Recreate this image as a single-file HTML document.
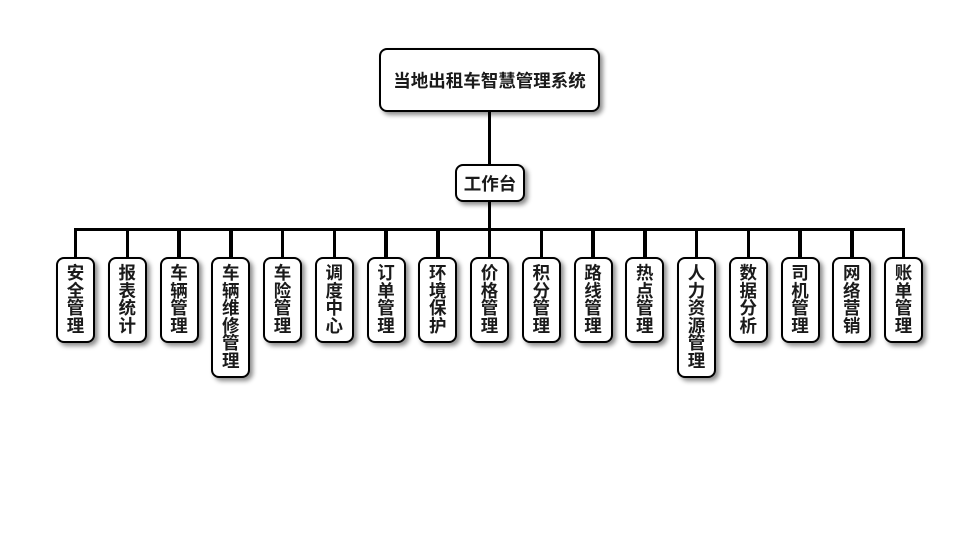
<!DOCTYPE html>
<html><head><meta charset="utf-8"><style>
html,body{margin:0;padding:0;background:#fff;}
body{width:980px;height:560px;position:relative;overflow:hidden;font-family:"Liberation Sans","Noto Sans CJK SC",sans-serif;}
.box{position:absolute;box-sizing:border-box;border:2px solid #000;border-radius:8px;background:#fff;box-shadow:3px 3px 5px rgba(0,0,0,0.45);display:flex;align-items:center;justify-content:center;font-weight:bold;color:#1a1a1a;font-size:17.5px;}
.leaf{width:39px;top:257px;line-height:17.5px;text-align:center;}
.ln{position:absolute;background:#000;}
</style></head><body>
<div class="ln" style="left:487.8px;top:110px;width:3.5px;height:56px"></div>
<div class="ln" style="left:487.8px;top:200px;width:3.5px;height:30px"></div>
<div class="ln" style="left:74px;top:227.5px;width:831px;height:3.5px"></div>
<div id="ticks"></div>
<div class="box" style="left:379px;top:48px;width:221px;height:64px;">当地出租车智慧管理系统</div>
<div class="box" style="left:455px;top:164px;width:70px;height:38px;">工作台</div>
<script>
var items=["安全管理","报表统计","车辆管理","车辆维修管理","车险管理","调度中心","订单管理","环境保护","价格管理","积分管理","路线管理","热点管理","人力资源管理","数据分析","司机管理","网络营销","账单管理"];
var h="";
for(var i=0;i<items.length;i++){
 var c=75.5+i*51.75;
 h+='<div class="ln" style="left:'+(c-1.75)+'px;top:229px;width:3.5px;height:30px"></div>';
}
for(var i=0;i<items.length;i++){
 var c=75.5+i*51.75;
 var t=items[i];
 var hh=t.length==6?121:86;
 h+='<div class="box leaf" style="left:'+(c-19.5)+'px;height:'+hh+'px"><div>'+t.split("").join("<br>")+'</div></div>';
}
document.getElementById("ticks").innerHTML=h;
</script>
</body></html>
